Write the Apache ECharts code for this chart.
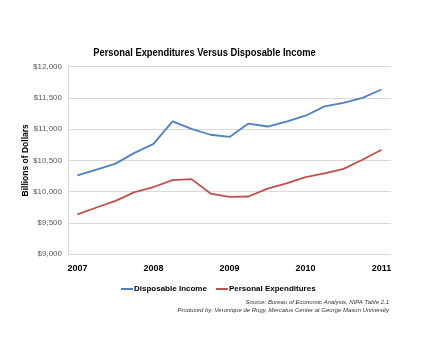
<!DOCTYPE html>
<html><head><meta charset="utf-8">
<script src="https://cdn.jsdelivr.net/npm/echarts@6/dist/echarts.min.js"></script>
<style>html,body{margin:0;padding:0;background:#fff}#c{width:432px;height:342px}</style>
</head><body><div id="c"></div>
<script>
const quarters = ["2007 Q1","2007 Q2","2007 Q3","2007 Q4","2008 Q1","2008 Q2","2008 Q3","2008 Q4","2009 Q1","2009 Q2","2009 Q3","2009 Q4","2010 Q1","2010 Q2","2010 Q3","2010 Q4","2011 Q1"];
const disposableIncome = [10258,10350,10448,10620,10763,11123,11005,10910,10875,11090,11042,11120,11215,11365,11420,11500,11634];
const personalExpenditures = [9636,9745,9851,9990,10073,10183,10199,9968,9915,9921,10047,10130,10231,10290,10364,10510,10670];
const yTicks = [9000,9500,10000,10500,11000,11500,12000];
const titleText = "Personal Expenditures Versus Disposable Income";
const yAxisName = "Billions of Dollars";
const sourceLines = ["Source: Bureau of Economic Analysis, NIPA Table 2.1","Produced by: Veronique de Rugy, Mercatus Center at George Mason University"];

const chart = echarts.init(document.getElementById('c'), null, {renderer:'canvas'});
const fmt = v => '$' + v.toLocaleString('en-US');
chart.setOption({
  animation:false,
  textStyle:{fontFamily:'Liberation Sans'},
  grid:{left:68,top:66.7,width:323,bottom:88,containLabel:false},
  xAxis:{type:'category',data:quarters,boundaryGap:true,
    axisLine:{show:false},axisTick:{show:false},
    axisLabel:{interval:3,margin:10,color:'#000',fontWeight:'bold',fontSize:9,formatter:v=>v.slice(0,4)}},
  yAxis:{type:'value',min:yTicks[0],max:yTicks[yTicks.length-1],interval:500,
    name:yAxisName,nameLocation:'middle',nameGap:38,nameRotate:90,nameMoveOverlap:false,
    nameTextStyle:{fontWeight:'bold',fontSize:8.5,color:'#000'},
    axisLine:{show:true,lineStyle:{color:'#d9d9d9',width:1}},axisTick:{show:false},
    splitLine:{lineStyle:{color:'#d9d9d9',width:1}},
    axisLabel:{color:'#595959',fontSize:8,margin:6,formatter:fmt}},
  legend:{top:280,left:116,itemWidth:12,itemHeight:2,itemGap:9,icon:'rect',
    textStyle:{fontSize:8,fontWeight:'bold',color:'#000',padding:[0,0,0,-4]},
    data:['Disposable Income','Personal Expenditures']},
  series:[
    {name:'Disposable Income',type:'line',data:disposableIncome,symbol:'none',
      lineStyle:{color:'#4F81BD',width:1.8},itemStyle:{color:'#4F81BD'}},
    {name:'Personal Expenditures',type:'line',data:personalExpenditures,symbol:'none',
      lineStyle:{color:'#C0504D',width:1.8},itemStyle:{color:'#C0504D'}}
  ],
  graphic:[
    {type:'text',x:204.5,y:47,scaleX:0.85,style:{text:titleText,fontSize:11,fontWeight:'bold',fill:'#000',textAlign:'center',fontFamily:'Liberation Sans'}},
    {type:'text',right:43,top:299,style:{text:sourceLines[0],fontSize:6,fontStyle:'italic',fill:'#333',textAlign:'right'}},
    {type:'text',right:43,top:307,style:{text:sourceLines[1],fontSize:6,fontStyle:'italic',fill:'#333',textAlign:'right'}}
  ]
});
</script></body></html>
